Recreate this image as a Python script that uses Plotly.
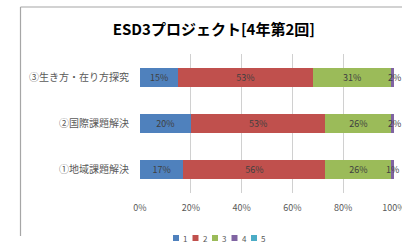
import plotly.graph_objects as go

categories = ["①地域課題解決", "②国際課題解決", "③生き方・在り方探究"]
series_names = ["1", "2", "3", "4", "5"]
s1 = [17, 20, 15]
s2 = [56, 53, 53]
s3 = [26, 26, 31]
s4 = [1, 2, 2]
s5 = [0, 0, 0]
tick_vals = [0, 20, 40, 60, 80, 100]
tick_text = ["0%", "20%", "40%", "60%", "80%", "100%"]
colors = ["#4F81BD", "#C0504D", "#9BBB59", "#8064A2", "#4BACC6"]

W, H = 402, 245
L, R, T, B = 140, 8, 54, 52
pw, ph = W - L - R, H - T - B

FONT = "Noto Sans CJK JP"
fig = go.Figure()
all_series = [s1, s2, s3, s4, s5]
for i, (name, vals) in enumerate(zip(series_names, all_series)):
    show_text = i < 3
    fig.add_trace(go.Bar(
        y=categories, x=vals, name=name, orientation="h",
        marker=dict(color=colors[i], line=dict(width=0)),
        text=[f"{v}%" for v in vals] if show_text else None,
        textposition="inside" if show_text else "none",
        insidetextanchor="middle",
        textfont=dict(size=9, color="#404040", family=FONT),
        constraintext="none",
        hoverinfo="skip", showlegend=False,
    ))

# labels for the thin 4th series
for cat, a, b, c, d in zip(categories, s1, s2, s3, s4):
    if d > 0:
        fig.add_annotation(x=a + b + c + d / 2, y=cat, text=f"{d}%", showarrow=False,
                           font=dict(size=9, color="#404040", family=FONT))

def px2paper_x(px):
    return (px - L) / pw

def px2paper_y(py):
    return 1 - (py - T) / ph

fig.add_shape(type="line", xref="paper", yref="paper",
              x0=px2paper_x(20.5), x1=px2paper_x(20.5), y0=px2paper_y(236), y1=px2paper_y(7),
              line=dict(color="#A6A6A6", width=1.2))
fig.add_shape(type="line", xref="paper", yref="paper",
              x0=px2paper_x(20.5), x1=px2paper_x(410), y0=px2paper_y(7), y1=px2paper_y(7),
              line=dict(color="#A6A6A6", width=1.2))

# compact legend (small squares + labels)
leg_x0, leg_step, leg_y = 173, 19.5, 238
for i, name in enumerate(series_names):
    sx = leg_x0 + i * leg_step
    fig.add_shape(type="rect", xref="paper", yref="paper",
                  x0=px2paper_x(sx), x1=px2paper_x(sx + 6),
                  y0=px2paper_y(leg_y + 3), y1=px2paper_y(leg_y - 3),
                  fillcolor=colors[i], line=dict(width=0))
    fig.add_annotation(xref="paper", yref="paper", x=px2paper_x(sx + 8), y=px2paper_y(leg_y),
                       xanchor="left", yanchor="middle", text=name, showarrow=False,
                       font=dict(size=8, color="#595959", family=FONT))

fig.update_layout(
    barmode="stack", bargap=0.59,
    width=W, height=H,
    margin=dict(l=L, r=R, t=T, b=B, autoexpand=False),
    paper_bgcolor="white", plot_bgcolor="white",
    title=dict(text="<b>ESD3プロジェクト[4年第2回]</b>", x=0.532, xanchor="center",
               y=1 - 30 / H, yanchor="middle",
               font=dict(size=15, color="#000000", family=FONT)),
    xaxis=dict(range=[0, 100], tickvals=tick_vals, ticktext=tick_text,
               showgrid=True, gridcolor="#D0D0D0", gridwidth=1, zeroline=False,
               showline=False, ticks="", automargin=False, ticklabelstandoff=8,
               ticklabeloverflow="allow",
               tickfont=dict(size=9, color="#595959", family=FONT)),
    yaxis=dict(showgrid=False, showline=False, ticks="", automargin=False,
               ticklabelstandoff=10,
               tickfont=dict(size=10, color="#595959", family=FONT)),
    showlegend=False,
)

fig.write_html("out.html", config={"displayModeBar": False},
               post_script="document.body.style.margin='0';")
